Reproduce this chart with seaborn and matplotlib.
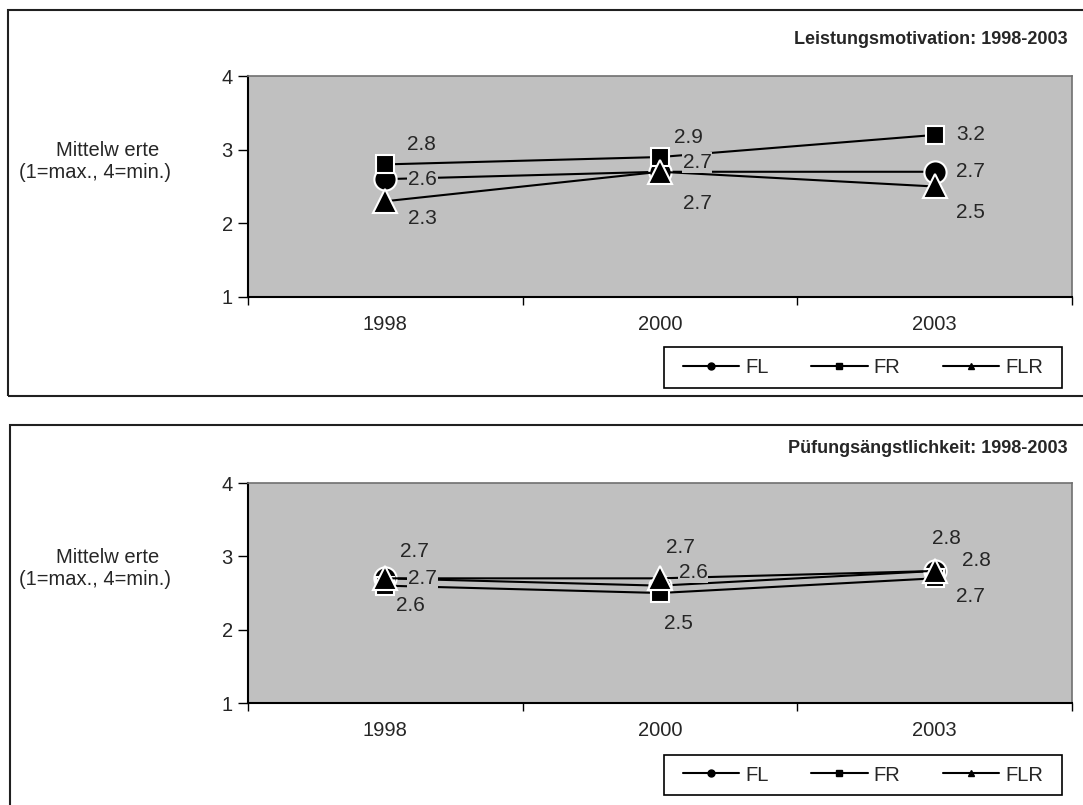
import matplotlib
matplotlib.use("Agg")
import matplotlib.pyplot as plt
from matplotlib.lines import Line2D
from matplotlib.patches import Rectangle
import pandas as pd
import seaborn as sns

# --- data ---------------------------------------------------------------
years = ["1998", "2000", "2003"]
groups = ["FL", "FR", "FLR"]

motivation_fl = [2.6, 2.7, 2.7]
motivation_fr = [2.8, 2.9, 3.2]
motivation_flr = [2.3, 2.7, 2.5]

angst_fl = [2.7, 2.6, 2.8]
angst_fr = [2.6, 2.5, 2.7]
angst_flr = [2.7, 2.7, 2.8]

title_top = "Leistungsmotivation: 1998-2003"
title_bottom = "Püfungsängstlichkeit: 1998-2003"
y_label_lines = ["Mittelw erte", "(1=max., 4=min.)"]
y_ticks = [1, 2, 3, 4]

# --- style ----------------------------------------------------------------
sns.set_style("white")
plt.rcParams["font.family"] = ["Liberation Sans", "DejaVu Sans"]
FS = 14.5          # axis / legend text
FS_VAL = 15        # value labels
FS_TITLE = 13
PLOT_BG = "#c0c0c0"
MARKERS = {"FL": ("o", 16), "FR": ("s", 13.5), "FLR": ("^", 17)}

# label offsets in pixels (dx right, dy down) per group and year
offsets_top = {
    "FL": [(37, 0), (37, -9), (36, 0)],
    "FR": [(36, -20), (28, -20), (36, 0)],
    "FLR": [(37, 17), (37, 32), (36, 26)],
}
offsets_bottom = {
    "FL": [(37, 0), (33, -13), (42, -11)],
    "FR": [(25, 20), (18, 30), (36, 18)],
    "FLR": [(29, -27), (20, -31), (12, -33)],
}

W, H = 1083, 805
fig = plt.figure(figsize=(W / 100, H / 100), dpi=100)
fig.patch.set_facecolor("white")


def frac_x(px):
    return px / W


def frac_y(py):
    return 1 - py / H


def make_df(fl, fr, flr):
    rows = []
    for g, vals in zip(groups, [fl, fr, flr]):
        for yr, v in zip(years, vals):
            rows.append({"Jahr": yr, "Wert": v, "Gruppe": g})
    return pd.DataFrame(rows)


def frame(x0, y0, x1, y1, lw, ec):
    fig.patches.append(Rectangle((frac_x(x0), frac_y(y1)),
                                 frac_x(x1 - x0), (y1 - y0) / H,
                                 transform=fig.transFigure, fill=False,
                                 lw=lw, ec=ec, clip_on=False, zorder=10))


def draw_panel(box_px, ax_px, legend_px, title, title_y, df, offsets):
    # outer chart frame
    frame(*box_px, lw=1.5, ec="#202020")
    x0, y0, x1, y1 = ax_px
    ax = fig.add_axes([frac_x(x0), frac_y(y1), frac_x(x1 - x0), (y1 - y0) / H])
    ax.set_facecolor(PLOT_BG)

    for g in groups:
        m, ms = MARKERS[g]
        sub = df[df["Gruppe"] == g]
        sns.lineplot(data=sub, x="Jahr", y="Wert", ax=ax, color="black",
                     lw=1.5, marker=m, markersize=ms, markeredgecolor="white",
                     markeredgewidth=1.5, sort=False, legend=False, zorder=3)

    # value labels with plot-coloured background so lines break behind them
    for g in groups:
        sub = df[df["Gruppe"] == g].reset_index(drop=True)
        for i, v in enumerate(sub["Wert"]):
            dx, dy = offsets[g][i]
            ax.annotate(f"{v:.1f}", xy=(i, v), xytext=(dx * 0.72, -dy * 0.72),
                        textcoords="offset points", ha="center", va="center",
                        fontsize=FS_VAL, zorder=5,
                        bbox=dict(boxstyle="square,pad=0.05", fc=PLOT_BG, ec="none"))

    ax.set_xlim(-0.5, 2.5)
    ax.set_ylim(1, 4)
    ax.set_yticks(y_ticks)
    ax.set_yticklabels([str(t) for t in y_ticks], fontsize=FS)
    ax.set_xticks(range(len(years)))
    ax.set_xticklabels(years, fontsize=FS)
    ax.set_xticks([-0.5, 0.5, 1.5, 2.5], minor=True)
    ax.tick_params(axis="x", which="major", length=0, pad=13)
    ax.tick_params(axis="x", which="minor", length=6, width=1, direction="out",
                   color="black", bottom=True)
    ax.tick_params(axis="y", length=7, width=1, direction="out", color="black",
                   left=True, pad=4)
    ax.set_xlabel("")
    ax.set_ylabel("")
    for side in ["left", "bottom"]:
        ax.spines[side].set_color("black")
        ax.spines[side].set_linewidth(1.5)
    for side in ["top", "right"]:
        ax.spines[side].set_color("#707070")
        ax.spines[side].set_linewidth(1.2)

    # y axis caption (two lines)
    yc = (y0 + y1) / 2 - 25
    fig.text(frac_x(108), frac_y(yc - 11), y_label_lines[0], ha="center",
             va="center", fontsize=FS)
    fig.text(frac_x(95), frac_y(yc + 11), y_label_lines[1], ha="center",
             va="center", fontsize=FS)
    # title, right-aligned
    fig.text(frac_x(1068), frac_y(title_y), title, ha="right", va="center",
             fontsize=FS_TITLE, fontweight="bold")

    # legend: drawn frame plus frameless legend centred inside
    lx0, ly0, lx1, ly1 = legend_px
    frame(lx0, ly0, lx1, ly1, lw=1.2, ec="black")
    handles = [Line2D([], [], color="black", lw=1.5, marker=MARKERS[g][0],
                      markersize=5, markeredgecolor="black") for g in groups]
    ax.legend(handles, groups, loc="center",
              bbox_to_anchor=(frac_x((lx0 + lx1) / 2), frac_y((ly0 + ly1) / 2)),
              bbox_transform=fig.transFigure, ncol=3, fontsize=FS,
              frameon=False, handlelength=2.8, handletextpad=0.3,
              columnspacing=2.1, borderaxespad=0, borderpad=0)
    return ax


draw_panel((8, 10, 1095, 396), (248, 76, 1072, 297), (664, 347, 1062, 388),
           title_top, 40, make_df(motivation_fl, motivation_fr, motivation_flr),
           offsets_top)
draw_panel((10, 425, 1095, 815), (248, 483, 1072, 703), (664, 755, 1062, 795),
           title_bottom, 448, make_df(angst_fl, angst_fr, angst_flr),
           offsets_bottom)

fig.savefig("out.png", dpi=100, facecolor="white")
